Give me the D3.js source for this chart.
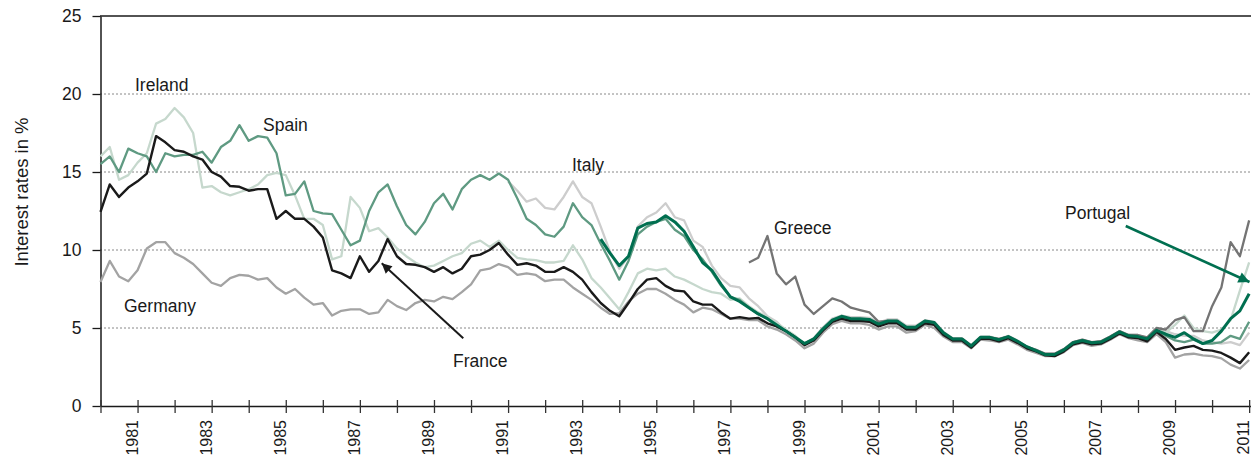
<!DOCTYPE html>
<html>
<head>
<meta charset="utf-8">
<script src="https://cdn.jsdelivr.net/npm/d3@7"></script>
<style>
  body { margin: 0; background: #fff; }
  text { font-family: "Liberation Sans", Arial, sans-serif; fill: #1a1a1a; }
</style>
</head>
<body>
<svg id="chart" width="1251" height="457"></svg>
<script>
// quarterly 10y government bond yields (value at start, +0.25 yr steps)
var france = [
  12.45, 14.2, 13.4, 14.0,   14.4, 14.9, 17.3, 16.9,   16.4, 16.3, 16.0, 15.8,   15.0, 14.7, 14.1, 14.05,
  13.8, 13.9, 13.9, 12.0,    12.5, 12.0, 12.0, 11.5,   10.8, 8.7, 8.5, 8.2,      9.6, 8.6, 9.3, 10.7,
  9.6, 9.1, 9.05, 8.9,       8.6, 8.9, 8.5, 8.8,       9.6, 9.7, 10.0, 10.45,    9.7, 9.05, 9.15, 9.0,
  8.6, 8.6, 8.9, 8.6,        8.1, 7.3, 6.6, 6.1,       5.75, 6.6, 7.5, 8.1,      8.2, 7.7, 7.4, 7.35,
  6.7, 6.5, 6.5, 6.0,        5.6, 5.7, 5.6, 5.65,      5.3, 5.1, 4.8, 4.4,       3.9, 4.2, 4.85, 5.4,
  5.6, 5.45, 5.45, 5.4,      5.1, 5.3, 5.3, 4.9,       4.9, 5.3, 5.2, 4.55,      4.2, 4.2, 3.75, 4.3,
  4.3, 4.15, 4.35, 4.05,     3.7, 3.5, 3.25, 3.2,      3.5, 3.95, 4.1, 3.95,     4.0, 4.3, 4.65, 4.4,
  4.35, 4.15, 4.75, 4.3,     3.6, 3.75, 3.85, 3.6,     3.55, 3.4, 3.1, 2.75,     3.45
];
var germany = [
  7.95, 9.3, 8.3, 8.0,       8.7, 10.1, 10.5, 10.5,    9.8, 9.5, 9.1, 8.5,       7.9, 7.7, 8.2, 8.4,
  8.35, 8.1, 8.2, 7.6,       7.2, 7.5, 6.95, 6.5,      6.6, 5.8, 6.1, 6.2,       6.2, 5.9, 6.0, 6.8,
  6.4, 6.15, 6.6, 6.8,       6.7, 7.0, 6.85, 7.3,      7.8, 8.7, 8.8, 9.1,       8.9, 8.4, 8.5, 8.4,
  8.0, 8.1, 8.1, 7.6,        7.2, 6.8, 6.3, 5.9,       5.95, 6.7, 7.2, 7.5,      7.5, 7.2, 6.8, 6.5,
  6.0, 6.3, 6.2, 5.9,        5.6, 5.6, 5.5, 5.5,       5.1, 4.9, 4.6, 4.2,       3.7, 4.0, 4.7, 5.25,
  5.45, 5.3, 5.3, 5.2,       4.9, 5.1, 5.1, 4.7,       4.8, 5.2, 5.0, 4.45,      4.1, 4.1, 3.7, 4.25,
  4.2, 4.1, 4.25, 3.95,      3.6, 3.4, 3.2, 3.2,       3.45, 3.9, 4.05, 3.85,    3.95, 4.25, 4.6, 4.35,
  4.2, 4.1, 4.6, 4.1,        3.1, 3.3, 3.35, 3.25,     3.2, 3.05, 2.65, 2.4,     2.95
];
var ireland = [
  16.0, 16.6, 14.5, 14.8,    15.6, 16.2, 18.1, 18.4,   19.1, 18.5, 17.5, 14.0,   14.1, 13.7, 13.5, 13.7,
  13.9, 14.2, 14.8, 14.95,   14.8, 13.5, 12.0, 12.0,   11.6, 9.4, 9.6, 13.4,     12.7, 11.2, 11.4, 10.8,
  10.1, 9.6, 9.2, 8.9,       9.0, 9.3, 9.6, 9.8,       10.4, 10.6, 10.2, 10.6,   10.0, 9.5, 9.4, 9.35,
  9.2, 9.2, 9.3, 10.3,       9.4, 8.2, 7.6, 6.9,       6.2, 7.3, 8.5, 8.8,       8.7, 8.8, 8.3, 8.1,
  7.8, 7.5, 7.3, 7.2,        6.8, 6.9, 6.4, 6.0,       5.7, 5.3, 4.9, 4.5,       3.95, 4.3, 4.95, 5.5,
  5.7, 5.55, 5.5, 5.45,      5.15, 5.35, 5.35, 4.95,   5.0, 5.35, 5.25, 4.6,     4.25, 4.25, 3.8, 4.35,
  4.35, 4.2, 4.4, 4.1,       3.75, 3.55, 3.3, 3.25,    3.55, 4.0, 4.15, 4.0,     4.05, 4.35, 4.7, 4.45,
  4.4, 4.3, 4.9, 4.7,        5.2, 5.8, 5.0, 4.8,       4.7, 4.9, 5.5, 7.4,       9.2
];
var spain = [
  15.5, 16.0, 15.0, 16.5,    16.2, 16.0, 15.0, 16.2,   16.0, 16.1, 16.1, 16.3,   15.6, 16.6, 17.0, 18.0,
  17.0, 17.3, 17.2, 16.2,    13.5, 13.6, 14.4, 12.5,   12.35, 12.3, 11.3, 10.3,  10.6, 12.5, 13.7, 14.2,
  12.8, 11.6, 11.0, 11.8,    13.0, 13.6, 12.6, 13.9,   14.5, 14.8, 14.5, 14.9,   14.5, 13.3, 12.0, 11.6,
  11.0, 10.85, 11.5, 13.0,   12.1, 11.6, 10.4, 9.3,    8.1, 9.3, 11.0, 11.5,     11.8, 12.0, 11.3, 10.9,
  10.0, 9.4, 8.6, 7.7,       7.0, 6.8, 6.3, 5.9,       5.6, 5.1, 4.8, 4.4,       4.0, 4.3, 4.95, 5.5,
  5.7, 5.55, 5.55, 5.5,      5.2, 5.4, 5.4, 5.0,       5.0, 5.4, 5.3, 4.65,      4.3, 4.3, 3.85, 4.4,
  4.4, 4.25, 4.45, 4.15,     3.75, 3.55, 3.3, 3.25,    3.55, 4.0, 4.15, 4.0,     4.05, 4.35, 4.7, 4.45,
  4.4, 4.2, 4.85, 4.5,       4.2, 4.1, 4.25, 4.0,      4.0, 4.1, 4.5, 4.3,       5.4
];
var italyStart = 1991;
var italy = [
  14.4, 13.8, 13.1, 13.3,    12.7, 12.6, 13.4, 14.4,   13.4, 13.0, 11.5, 9.9,    8.8, 9.6, 11.5, 12.1,
  12.4, 13.0, 12.1, 11.9,    10.6, 10.2, 9.0, 8.2,     7.7, 7.6, 6.9, 6.4,       5.75, 5.4, 4.8, 4.4,
  4.0, 4.35, 5.05, 5.6,      5.8, 5.7, 5.7, 5.65,      5.35, 5.55, 5.55, 5.15,   5.15, 5.5, 5.4, 4.75,
  4.35, 4.35, 3.9, 4.45,     4.45, 4.3, 4.5, 4.2,      3.8, 3.6, 3.35, 3.35,     3.65, 4.1, 4.25, 4.05,
  4.15, 4.45, 4.8, 4.55,     4.55, 4.35, 5.0, 4.8,     4.6, 4.5, 4.5, 4.2,       4.1, 4.0, 4.1, 3.9,
  4.7
];
var portugalStart = 1993.5;
var portugal = [
  10.7, 9.8,
  9.0, 9.6, 11.4, 11.7,      11.8, 12.2, 11.8, 11.2,   10.2, 9.2, 8.7, 7.8,      7.0, 6.7, 6.3, 5.9,
  5.6, 5.2, 4.8, 4.4,        4.0, 4.3, 4.95, 5.5,      5.75, 5.6, 5.6, 5.55,     5.25, 5.45, 5.45, 5.05,
  5.05, 5.45, 5.35, 4.7,     4.3, 4.3, 3.85, 4.4,      4.4, 4.25, 4.45, 4.15,    3.8, 3.55, 3.3, 3.3,
  3.6, 4.05, 4.2, 4.05,      4.1, 4.4, 4.75, 4.5,      4.45, 4.3, 4.85, 4.6,     4.4, 4.7, 4.3, 4.0,
  4.2, 4.8, 5.6, 6.1,        7.2
];
var greeceStart = 1997.5;
var greece = [
  9.2, 9.5,
  10.9, 8.5, 7.8, 8.3,       6.5, 5.9, 6.4, 6.9,       6.7, 6.3, 6.15, 6.0,      5.4, 5.45, 5.45, 5.05,
  5.05, 5.45, 5.35, 4.7,     4.3, 4.3, 3.85, 4.4,      4.4, 4.3, 4.45, 4.15,     3.8, 3.6, 3.35, 3.35,
  3.65, 4.1, 4.25, 4.1,      4.15, 4.45, 4.8, 4.55,    4.55, 4.4, 5.0, 4.9,      5.5, 5.7, 4.8, 4.8,
  6.4, 7.6, 10.5, 9.6,       11.9
];

var yTicks = [0, 5, 10, 15, 20, 25];
var yearTicks = d3.range(1980, 2012);

var series = [
  { name: "Germany",  values: germany,  start: 1980,          color: "#a3a3a3", width: 2.3 },
  { name: "Italy",    values: italy,    start: italyStart,    color: "#cdcdcd", width: 2.3 },
  { name: "Ireland",  values: ireland,  start: 1980,          color: "#c6d8cd", width: 2.3 },
  { name: "Spain",    values: spain,    start: 1980,          color: "#5f9a82", width: 2.3 },
  { name: "Greece",   values: greece,   start: greeceStart,   color: "#747474", width: 2.3 },
  { name: "France",   values: france,   start: 1980,          color: "#1a1a1a", width: 2.4 },
  { name: "Portugal", values: portugal, start: portugalStart, color: "#006f50", width: 3 }
];

var labels = [
  { text: "Ireland",  x: 135,  y: 90.5 },
  { text: "Spain",    x: 263,  y: 131 },
  { text: "Italy",    x: 572,  y: 171 },
  { text: "Greece",   x: 774,  y: 234 },
  { text: "Portugal", x: 1065, y: 219 },
  { text: "Germany",  x: 124,  y: 311.5 },
  { text: "France",   x: 453,  y: 367 }
];

var svg = d3.select("#chart");
var x = d3.scaleLinear().domain([1980, 2011.05]).range([100.5, 1251]);
var y = d3.scaleLinear().domain([0, 25]).range([406, 16]);

// grid
svg.append("g").selectAll("line")
  .data(yTicks.filter(function(d) { return d > 0; }))
  .enter().append("line")
  .attr("x1", 100).attr("x2", 1251)
  .attr("y1", function(d) { return y(d); })
  .attr("y2", function(d) { return y(d); })
  .attr("stroke", function(d) { return d == 25 ? "#1a1a1a" : "#888"; })
  .attr("stroke-width", function(d) { return d == 25 ? 1.5 : 1; })
  .attr("stroke-dasharray", function(d) { return d == 25 ? null : "2,2"; });

// y axis
var yAxis = svg.append("g")
  .attr("transform", "translate(100.5,0)")
  .call(d3.axisLeft(y).tickValues(yTicks).tickSize(8).tickSizeOuter(0).tickPadding(11));
yAxis.select(".domain").attr("stroke", "#1a1a1a").attr("stroke-width", 1.5);
yAxis.selectAll(".tick line").attr("stroke", "#1a1a1a").attr("stroke-width", 1.3);
yAxis.selectAll("text").attr("font-size", "17.5px").attr("fill", "#1a1a1a")
  .attr("font-family", "Liberation Sans, Arial, sans-serif");

// x axis
var xAxis = svg.append("g")
  .attr("transform", "translate(0,406)")
  .call(d3.axisBottom(x).tickValues(yearTicks).tickSize(7).tickSizeOuter(0)
    .tickFormat(function(d) { return d % 2 ? d : ""; }));
xAxis.select(".domain").attr("stroke", "#1a1a1a").attr("stroke-width", 1.5);
xAxis.selectAll(".tick line").attr("y1", -6).attr("stroke", "#333").attr("stroke-width", 1.3);
xAxis.selectAll("text")
  .attr("transform", "rotate(-90)")
  .attr("text-anchor", "end")
  .attr("x", -14).attr("y", -0.5).attr("dy", 0)
  .attr("font-size", "16px").attr("fill", "#1a1a1a")
  .attr("font-family", "Liberation Sans, Arial, sans-serif");

// y title
svg.append("text")
  .attr("transform", "translate(28,192) rotate(-90)")
  .attr("text-anchor", "middle")
  .attr("font-size", "18.5px")
  .text("Interest rates in %");

// lines
var line = d3.line()
  .x(function(d) { return x(d[0]); })
  .y(function(d) { return y(d[1]); });

svg.append("g").selectAll("path")
  .data(series)
  .enter().append("path")
  .attr("fill", "none")
  .attr("stroke", function(s) { return s.color; })
  .attr("stroke-width", function(s) { return s.width; })
  .attr("stroke-linejoin", "round")
  .attr("d", function(s) {
    return line(s.values.map(function(v, i) { return [s.start + i * 0.25, v]; }));
  });

// arrows
var defs = svg.append("defs");
function marker(id, color, len, wid) {
  defs.append("marker").attr("id", id)
    .attr("viewBox", "0 0 10 10").attr("refX", 10).attr("refY", 5)
    .attr("markerUnits", "userSpaceOnUse")
    .attr("markerWidth", len).attr("markerHeight", wid)
    .attr("orient", "auto")
    .append("path").attr("d", "M0,0L10,5L0,10z").attr("fill", color);
}
marker("arrowBlack", "#1a1a1a", 13, 10);
marker("arrowGreen", "#006f50", 14, 11);

svg.append("line")
  .attr("x1", x(1989.79)).attr("y1", y(4.34))
  .attr("x2", x(1987.59)).attr("y2", y(9.15))
  .attr("stroke", "#1a1a1a").attr("stroke-width", 2)
  .attr("marker-end", "url(#arrowBlack)");

svg.append("line")
  .attr("x1", x(2007.67)).attr("y1", y(11.54))
  .attr("x2", x(2011.01)).attr("y2", y(7.95))
  .attr("stroke", "#006f50").attr("stroke-width", 2.6)
  .attr("marker-end", "url(#arrowGreen)");

// labels
svg.append("g").selectAll("text")
  .data(labels)
  .enter().append("text")
  .attr("x", function(d) { return d.x; })
  .attr("y", function(d) { return d.y; })
  .attr("font-size", "17.5px")
  .text(function(d) { return d.text; });
</script>
</body>
</html>
